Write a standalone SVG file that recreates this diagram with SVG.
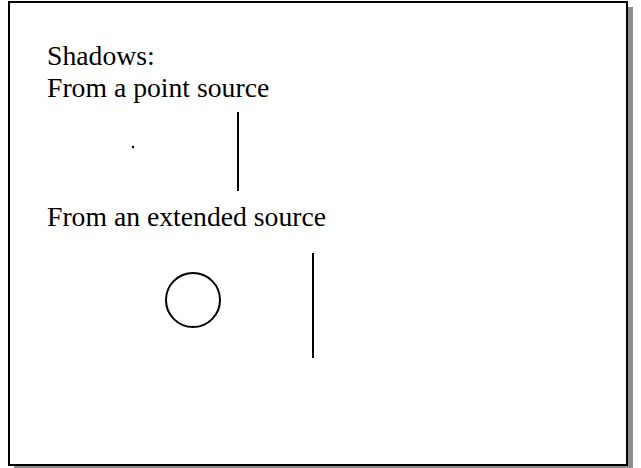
<svg xmlns="http://www.w3.org/2000/svg" width="641" height="468" viewBox="0 0 641 468">
<style>
text{font-family:"Liberation Serif","Times New Roman",serif;font-size:27.7px;fill:#000}
.ln{stroke:#000;stroke-width:2;fill:none}
</style>
<rect width="641" height="468" fill="#fff"/>
<g id="frame">
<rect x="14" y="7" width="619" height="463" fill="#8c8c8c"/>
<rect x="9" y="2" width="618" height="463" fill="#fff" stroke="#000" stroke-width="2"/>
</g>
<g id="title"><text x="47" y="65">Shadows:</text></g>
<g id="point-label"><text x="47" y="97">From a point source</text></g>
<g id="point-source"><circle cx="133" cy="147" r="1.2" fill="#000"/></g>
<g id="point-obstacle"><line class="ln" x1="238" y1="112" x2="238" y2="191"/></g>
<g id="extended-label"><text x="47" y="226">From an extended source</text></g>
<g id="extended-source"><circle class="ln" cx="193" cy="300" r="27"/></g>
<g id="extended-obstacle"><line class="ln" x1="313" y1="253" x2="313" y2="358"/></g>
<g id="connectors"></g>
</svg>
